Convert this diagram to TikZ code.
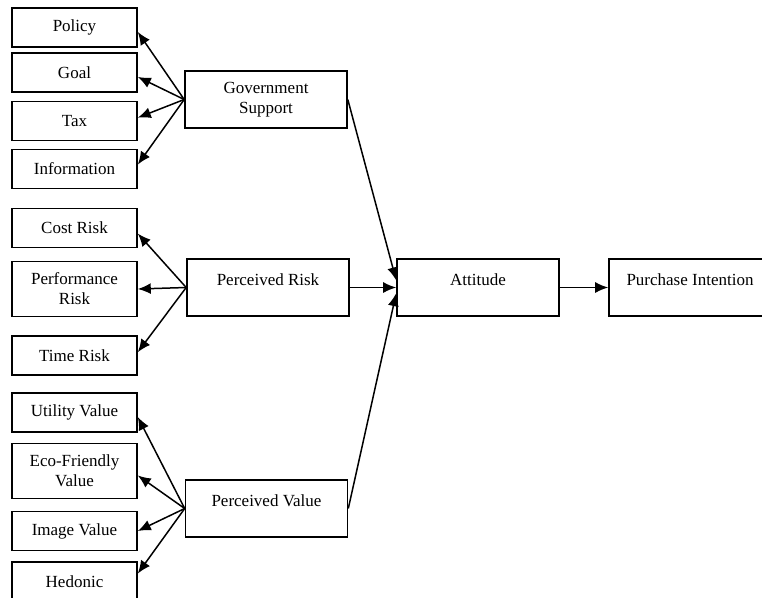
\documentclass[tikz,border=0pt]{standalone}
\usepackage{fontspec}
\setmainfont{Liberation Serif}
\usetikzlibrary{arrows.meta}

\begin{document}
\begin{tikzpicture}[x=1pt,y=-1pt,
    font=\fontsize{17}{20}\selectfont,
    item/.style={draw, line width=1.6pt, align=center, inner sep=0pt,
                 minimum width=125pt, minimum height=39pt},
    tall/.style={minimum height=55pt},
    factor/.style={draw, line width=1.6pt, align=center, inner sep=0pt,
                   minimum width=162pt, minimum height=57pt},
    upper/.style={text height=12pt, text depth=16pt},
    link/.style={line width=1.5pt, -{Latex[length=13pt,width=11pt]}}]
    \useasboundingbox (0,0) rectangle (762,597);
    \clip (0,0) rectangle (762,597);
    % left column
    \node[item] (pol) at (74.5,27.5) {Policy};
    \node[item] (goal) at (74.5,72.5) {Goal};
    \node[item] (tax) at (74.5,121) {Tax};
    \node[item] (info) at (74.5,169) {Information};
    \node[item] (cost) at (74.5,228) {Cost Risk};
    \node[item,tall] (perf) at (74.5,289) {Performance\\Risk};
    \node[item] (time) at (74.5,355.5) {Time Risk};
    \node[item] (util) at (74.5,412.5) {Utility Value};
    \node[item,tall] (eco) at (74.5,471) {Eco-Friendly\\Value};
    \node[item] (img) at (74.5,531) {Image Value};
    \node[item,anchor=north] (hed) at (74.5,561) {Hedonic};
    % factors
    \node[factor] (gov) at (266,99.5) {Government\\Support};
    \node[factor,upper] (risk) at (268,287.5) {Perceived Risk};
    \node[factor,upper] (val) at (266.5,508.5) {Perceived Value};
    \node[factor,upper] (att) at (478,287.5) {Attitude};
    \node[factor,upper] (pur) at (690,287.5) {Purchase Intention};
    % arrows
    \foreach \n/\a in {pol/-4, goal/-4, tax/3, info/4}
        \draw[link] (gov.west) -- (\n.\a);
    \foreach \n/\a in {cost/-5, perf/0, time/3}
        \draw[link] (risk.west) -- (\n.\a);
    \foreach \n/\a in {util/-4, eco/-4, img/0, hed/7}
        \draw[link] (val.west) -- (\n.\a);
    \draw[link] (gov.east) -- (att.175);
    \draw[link] (risk.east) -- (att.west);
    \draw[link] (val.east) -- (att.184);
    \draw[link] (att.east) -- (pur.west);
\end{tikzpicture}
\end{document}
